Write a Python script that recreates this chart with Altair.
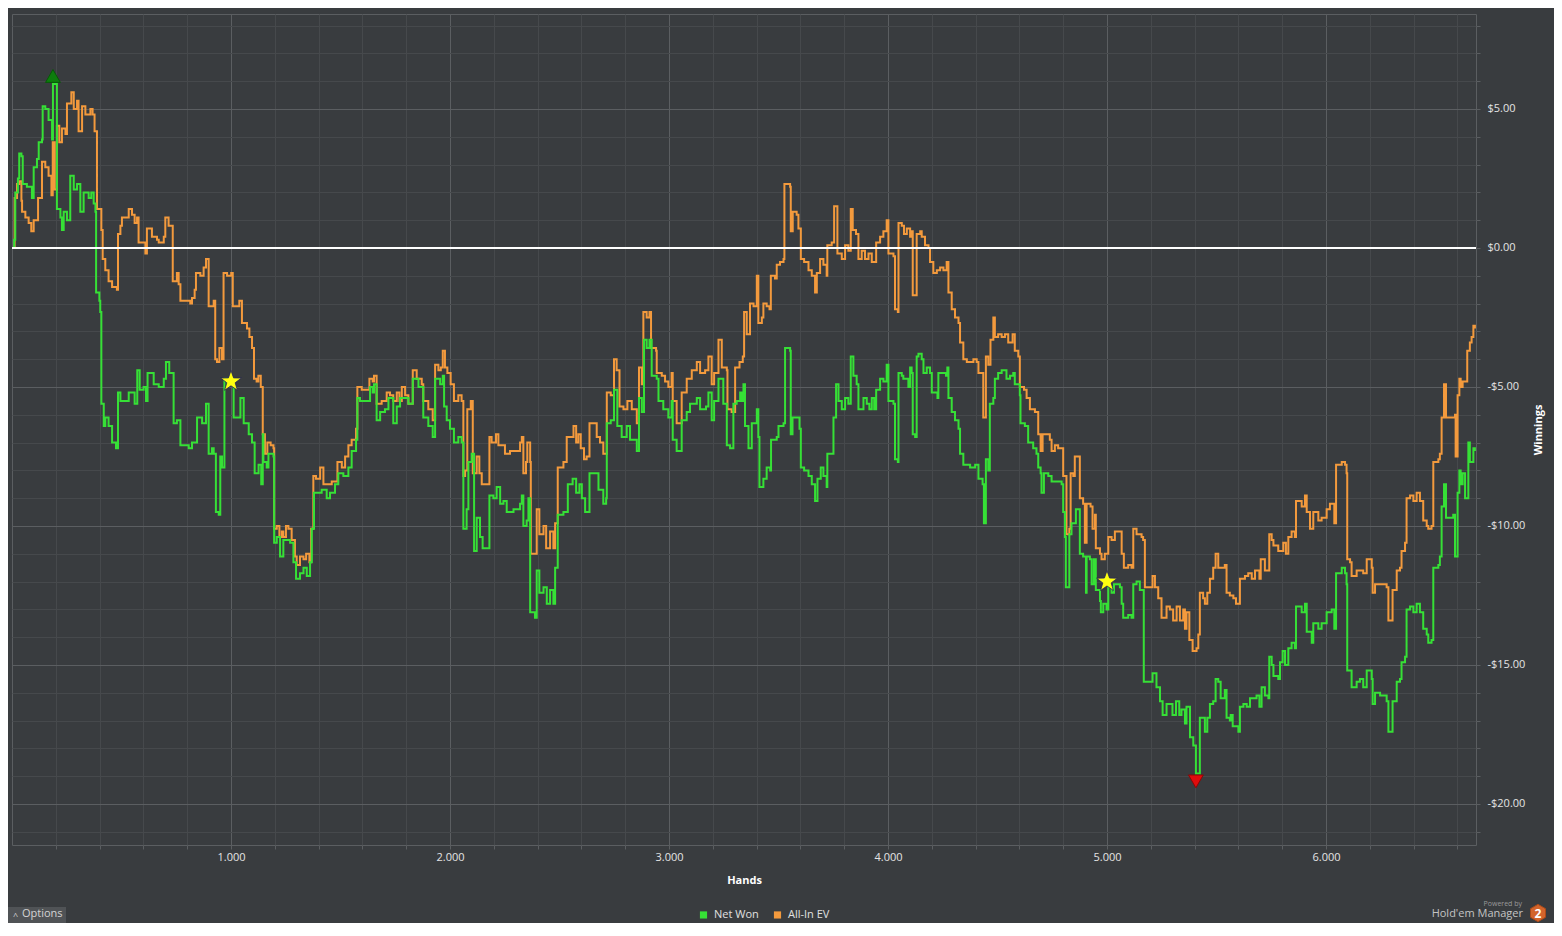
import altair as alt
import pandas as pd

# ---------------- data ----------------
# Net Won: hands / dollars
net_hands_a = [0, 10, 15, 27, 33, 43, 49, 68, 91, 99,
               114, 122, 137, 140, 152, 167, 183, 187, 205, 221,
               228, 236, 251, 266, 282, 297, 312, 327, 350, 362,
               373, 381, 384, 399, 403, 408, 419, 426, 441, 457,
               475, 484, 495, 517, 533, 560, 572, 583, 601, 612,
               619, 647, 670, 693, 703, 718, 738, 753, 769, 807,
               822, 845, 868, 886, 898, 913, 921, 931, 944, 951,
               959, 970, 982, 1005, 1012, 1035, 1043, 1058, 1081, 1096,
               1108, 1126, 1138]
net_won_a = [0.0, 0.3, 2.0, 2.5, 3.4, 3.3, 2.3, 2.2, 1.8, 2.9,
             3.2, 3.8, 3.9, 5.1, 5.0, 4.6, 3.9, 5.9, 1.4, 1.1,
             0.65, 1.3, 1.0, 2.6, 2.1, 2.3, 1.3, 2.0, 1.8, 2.0,
             1.6, 1.3, -1.6, -1.9, -2.3, -5.6, -6.4, -6.1, -6.4, -7.0,
             -7.2, -5.2, -5.5, -5.5, -5.2, -5.6, -4.4, -5.1, -5.0, -5.5,
             -4.5, -4.9, -5.0, -4.7, -4.1, -4.5, -6.3, -6.2, -7.1, -7.2,
             -7.0, -6.1, -6.3, -5.6, -7.4, -7.2, -7.4, -9.5, -9.6, -7.5,
             -7.9, -4.7, -4.9, -4.7, -6.1, -6.1, -5.4, -6.3, -6.7, -7.0,
             -8.1, -7.8, -8.5]
net_hands_b = [1145, 1148, 1163, 1171, 1194, 1197, 1209, 1224, 1239, 1270,
               1285, 1297, 1315, 1331, 1346, 1361, 1369, 1379, 1399, 1414,
               1437, 1452, 1475, 1490, 1513, 1536, 1551, 1571, 1577, 1589,
               1612, 1635, 1647, 1653, 1665, 1681, 1703, 1719, 1741, 1757,
               1772, 1787, 1810, 1830, 1856, 1878, 1901, 1921, 1932, 1955,
               1967, 1973, 1985, 2000, 2018, 2038, 2053, 2061, 2076, 2084,
               2099, 2110, 2122, 2137, 2149, 2168, 2180, 2198, 2213, 2229]
net_won_b = [-6.7, -7.7, -7.9, -7.4, -7.5, -10.6, -10.4, -11.1, -10.5, -10.6,
             -11.3, -11.9, -11.7, -11.5, -11.8, -11.3, -10.1, -8.8, -8.8, -8.7,
             -9.0, -8.8, -8.5, -8.1, -8.2, -7.9, -7.3, -6.9, -5.4, -5.5,
             -5.5, -5.0, -5.2, -4.9, -6.2, -5.9, -5.8, -5.4, -6.3, -5.7,
             -5.4, -5.4, -5.6, -4.7, -5.0, -6.1, -6.4, -6.8, -4.7, -4.9,
             -4.6, -5.7, -6.2, -6.5, -7.0, -6.8, -7.0, -10.1, -9.4, -7.7,
             -7.4, -10.9, -9.7, -10.4, -10.8, -10.8, -8.9, -9.0, -8.6, -9.2]
net_hands_c = [2244, 2259, 2290, 2320, 2328, 2335, 2350, 2358, 2366, 2388,
               2396, 2408, 2427, 2442, 2457, 2472, 2480, 2492, 2518, 2538,
               2560, 2576, 2591, 2602, 2617, 2637, 2662, 2678, 2700, 2713,
               2716, 2734, 2749, 2764, 2784, 2807, 2822, 2853, 2863, 2876,
               2886, 2898, 2911, 2921, 2944, 2952, 2974, 2997, 3012, 3017,
               3035, 3051, 3058, 3081, 3096, 3127, 3142, 3169, 3180, 3195,
               3206, 3226, 3248, 3264, 3279]
net_won_c = [-9.1, -9.5, -9.4, -9.2, -8.9, -10.0, -9.8, -9.0, -13.1, -13.3,
             -11.6, -12.4, -12.2, -12.8, -12.3, -12.8, -11.5, -9.6, -9.5, -8.5,
             -8.3, -8.8, -8.5, -9.0, -9.5, -8.1, -8.1, -8.7, -9.2, -9.0,
             -6.3, -6.2, -5.1, -6.4, -6.8, -6.4, -6.9, -7.3, -5.4, -5.9,
             -3.3, -3.6, -3.3, -4.6, -4.7, -5.5, -5.8, -6.1, -5.5, -6.9,
             -7.3, -7.3, -6.2, -5.9, -5.6, -5.4, -5.8, -5.7, -5.2, -6.2,
             -5.5, -4.7, -5.6, -7.1, -7.2]
net_hands_d = [3294, 3309, 3325, 3332, 3340, 3347, 3363, 3378, 3393, 3401,
               3408, 3413, 3431, 3446, 3462, 3466, 3492, 3500, 3523, 3530,
               3553, 3556, 3564, 3583, 3596, 3602, 3617, 3637, 3652, 3667,
               3678, 3693, 3705, 3720, 3723, 3743, 3751, 3763, 3774, 3789,
               3804, 3819, 3830, 3842, 3857, 3865, 3888, 3903, 3915, 3926,
               3937, 3946, 3964, 3979, 3994, 4002, 4025, 4032, 4045, 4048,
               4063, 4070, 4093, 4101, 4108, 4113, 4124, 4131, 4139, 4154,
               4162, 4177, 4192, 4200, 4215, 4226, 4230, 4265, 4271, 4276,
               4291, 4306, 4322, 4329, 4344, 4375, 4398, 4413]
net_won_d = [-5.6, -5.5, -5.2, -5.5, -4.9, -6.4, -7.2, -6.3, -6.3, -5.8,
             -6.8, -8.6, -8.3, -7.9, -8.0, -6.9, -6.8, -6.4, -6.3, -3.6,
             -3.7, -6.7, -6.1, -6.1, -6.5, -7.9, -8.0, -8.2, -8.5, -9.1,
             -8.3, -7.9, -8.2, -8.6, -7.4, -7.4, -6.1, -4.9, -5.5, -5.8,
             -5.4, -5.6, -3.9, -4.6, -4.9, -5.8, -5.4, -5.6, -5.8, -5.4,
             -5.8, -5.1, -4.7, -4.8, -4.2, -5.5, -5.6, -7.6, -7.7, -4.5,
             -4.6, -4.7, -5.0, -4.3, -4.5, -6.7, -6.8, -3.9, -3.8, -4.0,
             -4.5, -4.3, -4.5, -5.2, -5.2, -5.4, -4.5, -4.6, -4.3, -5.4,
             -5.9, -6.2, -6.5, -7.4, -7.8, -7.9, -7.8, -8.3]
net_hands_e = [4420, 4432, 4438, 4442, 4447, 4458, 4465, 4481, 4488, 4503,
               4519, 4541, 4557, 4572, 4579, 4602, 4605, 4625, 4640, 4663,
               4678, 4686, 4697, 4701, 4712, 4732, 4747, 4773, 4793, 4800,
               4808, 4812, 4823, 4828, 4838, 4849, 4858, 4869, 4876, 4891,
               4904, 4907, 4922, 4930, 4940, 4949, 4968, 4972, 4983, 4998,
               5006, 5021, 5032, 5044, 5059, 5067, 5074, 5097, 5112, 5120,
               5135, 5150, 5162, 5168, 5196, 5208, 5219, 5226, 5242, 5254,
               5272, 5284, 5299, 5315, 5330, 5340, 5356, 5363, 5376, 5379,
               5394, 5406, 5417, 5424, 5439, 5447, 5458, 5470, 5485, 5496,
               5508, 5519, 5538, 5546, 5561]
net_won_e = [-8.3, -8.5, -9.9, -9.9, -7.6, -8.0, -5.6, -5.4, -4.7, -4.5,
             -4.4, -4.7, -4.6, -4.5, -4.9, -5.3, -6.3, -6.4, -7.0, -7.2,
             -7.4, -7.9, -8.1, -8.8, -8.1, -8.2, -8.4, -8.4, -8.5, -9.5,
             -10.4, -12.2, -12.2, -10.3, -9.9, -9.9, -9.4, -9.4, -11.0, -11.1,
             -12.4, -11.1, -11.2, -12.1, -11.2, -12.3, -12.7, -13.1, -12.8, -13.0,
             -12.2, -12.4, -12.1, -12.1, -12.2, -12.8, -13.3, -13.2, -13.3, -12.1,
             -12.0, -12.3, -12.3, -15.6, -15.6, -15.3, -15.3, -15.8, -16.3, -16.8,
             -16.4, -16.4, -16.8, -16.3, -16.8, -16.6, -17.1, -16.5, -16.5, -17.6,
             -17.9, -18.9, -18.9, -16.9, -16.9, -17.4, -16.9, -16.4, -16.3, -15.5,
             -15.6, -16.2, -15.9, -16.9, -17.0]
net_hands_f = [5565, 5574, 5584, 5600, 5607, 5623, 5638, 5653, 5668, 5683,
               5696, 5706, 5721, 5737, 5741, 5752, 5760, 5782, 5790, 5802,
               5813, 5828, 5843, 5858, 5863, 5881, 5889, 5904, 5912, 5935,
               5942, 5965, 5980, 6003, 6026, 6038, 6046, 6072, 6087, 6094,
               6097, 6110, 6117, 6140, 6155, 6170, 6186, 6201, 6209, 6213,
               6224, 6247, 6269, 6277, 6285, 6300, 6304, 6315, 6323, 6338,
               6345, 6361, 6368, 6384, 6399, 6414, 6429, 6444, 6460, 6467,
               6482, 6490, 6513, 6520, 6528, 6539, 6548, 6566, 6581, 6589,
               6600, 6601, 6609, 6615, 6624, 6635, 6645, 6650, 6657, 6665,
               6673, 6680]
net_won_f = [-16.8, -17.2, -17.2, -17.4, -16.5, -16.4, -16.5, -16.2, -16.2, -16.1,
             -16.5, -15.8, -16.1, -16.2, -14.7, -15.0, -15.4, -15.5, -14.9, -14.5,
             -15.0, -14.4, -14.2, -14.4, -12.9, -12.9, -13.1, -12.8, -13.8, -14.2,
             -13.5, -13.7, -13.5, -13.1, -13.0, -13.7, -11.7, -11.5, -11.7, -12.1,
             -15.2, -15.2, -15.8, -15.6, -15.5, -15.8, -15.2, -15.2, -15.5, -16.4,
             -16.0, -16.1, -16.1, -16.3, -17.4, -17.4, -16.3, -16.3, -15.6, -15.5,
             -14.9, -14.7, -13.0, -12.9, -13.1, -12.8, -13.1, -13.7, -13.9, -14.2,
             -14.1, -11.5, -11.4, -11.1, -9.3, -8.5, -9.7, -9.7, -9.6, -11.1,
             -11.1, -8.8, -8.0, -8.5, -8.1, -9.0, -9.0, -7.0, -7.7, -7.7,
             -7.2, -7.3]

# All-In EV: hands / dollars
ev_hands_a = [0, 12, 23, 33, 43, 46, 61, 76, 88, 99,
              110, 119, 129, 137, 152, 167, 180, 186, 195, 205,
              216, 228, 244, 251, 271, 282, 297, 304, 320, 335,
              347, 358, 368, 377, 388, 399, 408, 414, 426, 441,
              457, 479, 484, 495, 502, 525, 533, 548, 560, 571,
              578, 601, 609, 616, 632, 639, 662, 670, 693, 700,
              708, 715, 728, 734, 753, 761, 769, 791, 814, 822,
              834, 840, 860, 875, 886, 895, 898, 910, 921, 928,
              936, 947, 959, 966, 982, 1001, 1008, 1027, 1038, 1050,
              1073, 1084, 1096]
ev_won_a = [0.0, 1.8, 2.3, 2.4, 1.7, 1.3, 1.1, 0.9, 0.6, 1.0,
            1.0, 1.8, 1.8, 3.1, 2.9, 2.6, 1.9, 3.8, 2.1, 4.4,
            3.8, 4.3, 4.1, 5.2, 5.6, 5.0, 5.3, 4.2, 5.1, 4.8,
            4.8, 5.0, 4.8, 4.2, 1.4, 1.4, 0.65, -0.4, -0.8, -1.2,
            -1.4, -1.5, 0.5, 0.8, 1.1, 1.1, 1.4, 1.2, 0.9, 1.1,
            0.2, 0.2, -0.2, 0.7, 0.7, 0.4, 0.3, 0.2, 0.4, 1.1,
            1.1, 0.8, 0.8, -1.2, -0.9, -1.3, -1.9, -1.9, -2.0, -1.8,
            -1.5, -0.9, -1.0, -0.7, -0.4, -0.4, -2.1, -2.1, -1.9, -4.0,
            -4.1, -3.6, -4.0, -0.9, -1.0, -0.9, -2.1, -2.1, -1.9, -2.7,
            -2.9, -3.2, -3.6]
ev_hands_b = [1105, 1117, 1125, 1136, 1145, 1155, 1166, 1181, 1194, 1197,
              1209, 1221, 1232, 1239, 1251, 1262, 1277, 1292, 1300, 1315,
              1331, 1343, 1358, 1366, 1376, 1388, 1407, 1422, 1445, 1460,
              1486, 1506, 1521, 1536, 1551, 1571, 1577, 1597, 1620, 1632,
              1647, 1653, 1665, 1688, 1711, 1726, 1741, 1757, 1769, 1780,
              1795, 1810, 1830, 1848, 1871, 1878, 1901, 1921, 1932, 1947,
              1958, 1967, 1977, 1988, 2003, 2018, 2038, 2053, 2061, 2069,
              2079, 2095, 2104, 2122, 2134, 2145, 2168, 2180, 2190, 2210,
              2221]
ev_won_b = [-4.7, -4.8, -4.6, -5.0, -6.7, -7.4, -7.0, -7.1, -7.2, -10.1,
            -10.0, -10.4, -10.2, -10.4, -10.0, -10.1, -10.5, -11.1, -11.4, -11.1,
            -11.2, -11.0, -11.3, -10.1, -8.2, -8.3, -7.9, -8.5, -8.5, -8.4,
            -7.7, -7.9, -7.5, -7.1, -6.9, -6.5, -5.0, -5.1, -5.1, -4.7,
            -4.8, -4.6, -5.6, -5.5, -5.2, -5.3, -5.5, -5.2, -5.5, -5.0,
            -5.3, -5.6, -4.4, -4.7, -4.9, -5.5, -5.8, -6.2, -4.2, -4.4,
            -4.3, -3.7, -4.3, -4.5, -4.9, -5.5, -5.3, -5.5, -8.2, -8.0,
            -5.8, -5.5, -8.1, -7.5, -8.1, -8.5, -8.5, -6.8, -7.0, -6.7,
            -7.1]
ev_hands_c = [2251, 2274, 2305, 2320, 2328, 2335, 2347, 2353, 2366, 2369,
              2388, 2396, 2408, 2427, 2439, 2457, 2472, 2480, 2492, 2518,
              2533, 2556, 2564, 2576, 2586, 2597, 2612, 2624, 2637, 2658,
              2670, 2685, 2700, 2708, 2716, 2734, 2749, 2761, 2774, 2792,
              2810, 2830, 2853, 2863, 2876, 2883, 2898, 2911, 2918, 2941,
              2944, 2967, 2982, 2997, 3012, 3017, 3035, 3058, 3081, 3104,
              3127, 3142, 3165, 3180, 3195, 3206, 3226, 3241, 3264, 3267,
              3286, 3302]
ev_won_c = [-7.4, -7.3, -7.3, -7.0, -6.8, -8.1, -7.7, -7.0, -7.7, -11.0,
            -11.0, -9.4, -10.3, -10.0, -10.8, -10.2, -10.8, -9.9, -7.9, -7.7,
            -6.8, -6.8, -6.4, -7.0, -6.7, -7.2, -7.6, -7.5, -6.3, -6.3,
            -6.8, -7.0, -7.4, -7.4, -5.2, -5.3, -4.0, -4.4, -5.7, -5.8,
            -5.5, -5.8, -6.3, -4.3, -4.9, -2.3, -2.5, -2.3, -3.6, -3.7,
            -4.5, -4.6, -4.8, -5.0, -4.5, -5.5, -6.3, -5.2, -4.7, -4.4,
            -4.1, -4.5, -4.4, -3.9, -4.9, -4.5, -3.3, -4.3, -4.4, -5.8,
            -5.9, -4.3]
ev_hands_d = [3322, 3337, 3343, 3355, 3370, 3386, 3401, 3408, 3424, 3431,
              3446, 3459, 3465, 3484, 3492, 3507, 3523, 3527, 3553, 3556,
              3565, 3583, 3591, 3602, 3617, 3637, 3652, 3667, 3675, 3690,
              3705, 3720, 3723, 3743, 3754, 3763, 3769, 3789, 3804, 3819,
              3830, 3839, 3854, 3865, 3880, 3895, 3911, 3926, 3937, 3946,
              3964, 3979, 3994, 4002, 4025, 4032, 4045, 4048, 4063, 4073,
              4086, 4101, 4108, 4113, 4124, 4131, 4147, 4154, 4169, 4185,
              4192, 4207, 4223, 4238, 4253, 4268, 4276, 4291, 4306, 4322,
              4329, 4344, 4360, 4390, 4405, 4413]
ev_won_d = [-4.1, -3.9, -2.3, -3.1, -2.0, -2.1, -1.0, -2.7, -2.5, -2.0,
            -2.1, -2.2, -1.0, -1.1, -0.6, -0.5, -0.4, 2.3, 2.2, 0.6,
            1.3, 1.2, 0.7, -0.4, -0.5, -0.8, -1.0, -1.6, -0.9, -0.4,
            -0.6, -1.0, 0.1, 0.2, 1.5, 1.5, -0.2, -0.4, 0.1, -0.1,
            1.4, 0.65, 0.5, -0.4, -0.1, -0.4, -0.2, -0.5, -0.5, 0.2,
            0.4, 0.6, 1.0, -0.2, -0.3, -2.2, -2.3, 0.9, 0.8, 0.5,
            0.7, 0.4, 0.6, -1.7, -1.7, 0.5, 0.6, 0.4, 0.1, 0.0,
            -0.5, -0.9, -0.8, -0.7, -0.8, -0.5, -1.6, -2.2, -2.5, -2.7,
            -3.4, -4.0, -4.1, -4.0, -4.1, -4.5]
ev_hands_e = [4427, 4435, 4442, 4447, 4458, 4468, 4481, 4488, 4503, 4519,
              4534, 4549, 4569, 4579, 4595, 4602, 4621, 4633, 4648, 4671,
              4686, 4697, 4706, 4724, 4739, 4747, 4762, 4777, 4793, 4800,
              4815, 4828, 4834, 4846, 4853, 4869, 4876, 4891, 4899, 4907,
              4925, 4934, 4945, 4949, 4968, 4975, 4990, 5006, 5021, 5036,
              5051, 5067, 5077, 5097, 5112, 5120, 5135, 5158, 5165, 5173,
              5196, 5208, 5219, 5234, 5249, 5272, 5287, 5302, 5318, 5333,
              5348, 5356, 5363, 5376, 5391, 5409, 5417, 5424, 5439, 5447,
              5458, 5470, 5485, 5496, 5508, 5523, 5538, 5546, 5561]
ev_won_e = [-4.5, -6.1, -6.1, -3.9, -4.2, -3.3, -2.5, -3.2, -3.1, -3.2,
            -3.1, -3.4, -3.1, -3.7, -3.9, -5.0, -5.1, -5.4, -5.8, -5.9,
            -6.7, -7.3, -6.7, -6.7, -6.9, -7.3, -7.1, -7.2, -7.2, -8.2,
            -10.3, -10.1, -8.1, -8.2, -7.5, -7.5, -9.0, -9.2, -10.6, -9.2,
            -9.3, -10.1, -9.6, -10.8, -11.0, -11.2, -11.0, -10.4, -10.5, -10.2,
            -10.2, -11.0, -11.5, -11.4, -11.5, -10.1, -10.3, -10.4, -10.5, -12.2,
            -12.2, -11.8, -12.2, -12.6, -13.3, -12.9, -13.0, -13.4, -12.9, -13.4,
            -13.0, -13.7, -13.1, -14.1, -14.5, -14.4, -13.9, -12.4, -12.6, -12.8,
            -12.4, -11.9, -11.5, -11.0, -11.5, -11.5, -11.4, -12.4, -12.5]
ev_hands_f = [5569, 5577, 5589, 5600, 5607, 5630, 5645, 5661, 5676, 5696,
              5702, 5721, 5737, 5741, 5752, 5760, 5782, 5798, 5805, 5817,
              5828, 5843, 5858, 5863, 5881, 5889, 5904, 5912, 5927, 5942,
              5965, 5980, 6003, 6018, 6038, 6046, 6072, 6087, 6094, 6097,
              6110, 6117, 6140, 6155, 6170, 6186, 6201, 6209, 6213, 6224,
              6247, 6269, 6277, 6285, 6300, 6304, 6315, 6323, 6338, 6345,
              6361, 6368, 6384, 6399, 6414, 6429, 6444, 6460, 6467, 6482,
              6490, 6513, 6520, 6528, 6539, 6548, 6566, 6589, 6592, 6600,
              6601, 6609, 6615, 6624, 6639, 6645, 6657, 6665, 6673, 6680]
ev_won_f = [-12.5, -12.6, -12.8, -12.8, -11.9, -11.8, -11.7, -11.9, -11.6, -11.9,
            -11.2, -11.6, -11.6, -10.3, -10.5, -10.7, -10.9, -10.9, -10.6, -11.0,
            -10.4, -10.2, -10.4, -9.1, -9.1, -9.3, -8.9, -9.5, -10.1, -9.5,
            -9.8, -9.7, -9.4, -9.2, -9.9, -7.8, -7.7, -7.8, -8.1, -11.2,
            -11.3, -11.8, -11.6, -11.6, -11.7, -11.2, -11.2, -11.5, -12.4, -12.1,
            -12.1, -12.1, -12.2, -13.4, -13.4, -12.3, -12.3, -11.6, -11.5, -10.9,
            -10.6, -9.0, -8.9, -9.1, -8.8, -9.1, -9.8, -10.0, -10.1, -10.0,
            -7.7, -7.6, -7.4, -6.1, -4.9, -6.1, -6.1, -6.0, -7.5, -7.5,
            -5.3, -4.7, -5.0, -4.8, -4.8, -3.7, -3.4, -3.2, -2.8, -2.9]

milestone_hands = [1000, 5000]
milestone_won = [-4.8, -12.0]

series_names = ["Net Won", "All-In EV"]
series_colors = ["#36e036", "#f39a3d"]

x_tick_values = list(range(200, 6601, 200))
y_tick_values = list(range(-21, 9))
x_domain = [0, 6685]
y_domain = [-21.475, 8.417]

# ---------------- assemble ----------------
net_hands = net_hands_a + net_hands_b + net_hands_c + net_hands_d + net_hands_e + net_hands_f
net_won = net_won_a + net_won_b + net_won_c + net_won_d + net_won_e + net_won_f
ev_hands = ev_hands_a + ev_hands_b + ev_hands_c + ev_hands_d + ev_hands_e + ev_hands_f
ev_won = ev_won_a + ev_won_b + ev_won_c + ev_won_d + ev_won_e + ev_won_f
assert len(net_hands) == len(net_won), (len(net_hands), len(net_won))
assert len(ev_hands) == len(ev_won), (len(ev_hands), len(ev_won))

net_df = pd.DataFrame({"Hands": net_hands, "Winnings": net_won, "Series": series_names[0]})
ev_df = pd.DataFrame({"Hands": ev_hands, "Winnings": ev_won, "Series": series_names[1]})
hi_df = net_df.loc[[net_df["Winnings"].idxmax()]]
lo_df = net_df.loc[[net_df["Winnings"].idxmin()]]
star_df = pd.DataFrame({"Hands": milestone_hands, "Winnings": milestone_won})
zero_df = pd.DataFrame({"Winnings": [0]})
one_df = pd.DataFrame({"k": [0]})

FONT = "Open Sans"
MINOR = "#46494c"
MAJOR = "#5b5e61"
BG = "#393c3f"

xscale = alt.Scale(domain=x_domain, nice=False, zero=False)
yscale = alt.Scale(domain=y_domain, nice=False, zero=False)

xaxis = alt.Axis(
    values=x_tick_values,
    title="Hands",
    labelExpr="datum.value % 1000 === 0 ? (datum.value / 1000) + '.000' : ''",
    grid=True,
    gridColor={"condition": {"test": "datum.value % 1000 === 0", "value": MAJOR}, "value": MINOR},
    gridWidth=1,
    domain=False,
    ticks=True, tickSize=4, tickColor=MAJOR,
    labelColor="#e4e4e4", labelFont=FONT, labelFontSize=11, labelPadding=2,
    labelOverlap=False, labelFlush=False,
    titleColor="#ffffff", titleFont=FONT, titleFontSize=11, titleFontWeight="bold",
    titlePadding=12,
)
yaxis = alt.Axis(
    orient="right",
    values=y_tick_values,
    title="Winnings",
    labelExpr="datum.value % 5 === 0 ? (datum.value < 0 ? '-$' : '$') + abs(datum.value) + '.00' : ''",
    grid=True,
    gridColor={"condition": {"test": "datum.value % 5 === 0", "value": MAJOR}, "value": MINOR},
    gridWidth=1,
    domain=False,
    ticks=True, tickSize=4, tickColor=MAJOR,
    labelColor="#e4e4e4", labelFont=FONT, labelFontSize=11, labelPadding=7,
    labelOverlap=False, labelFlush=False,
    titleColor="#ffffff", titleFont=FONT, titleFontSize=11, titleFontWeight="bold",
    titleAngle=270, titleX=62, titleBaseline="middle",
)

X = alt.X("Hands:Q", scale=xscale, axis=xaxis, title="Hands")
Y = alt.Y("Winnings:Q", scale=yscale, axis=yaxis, title="Winnings")

color_enc = alt.Color(
    "Series:N",
    scale=alt.Scale(domain=series_names, range=series_colors),
    legend=alt.Legend(
        title=None, orient="none", legendX=686, legendY=895, direction="horizontal",
        symbolType="square", symbolSize=10, symbolStrokeWidth=4,
        labelColor="#e0e0e0", labelFont=FONT, labelFontSize=11,
        columnPadding=8, labelOffset=5,
    ),
)

ev_line = alt.Chart(ev_df).mark_line(strokeWidth=2, interpolate="step-after").encode(
    x=X, y=Y, color=color_enc,
)
net_line = alt.Chart(net_df).mark_line(strokeWidth=2, interpolate="step-after").encode(
    x=X, y=Y, color=color_enc,
)
zero_rule = alt.Chart(zero_df).mark_rule(color="#ffffff", strokeWidth=2).encode(y=Y)
hi_mark = alt.Chart(hi_df).mark_point(
    shape="triangle-up", filled=True, fill="#0d7d0d", stroke="#075a07", strokeWidth=1,
    size=220, yOffset=-8, opacity=1,
).encode(x=X, y=Y)
lo_mark = alt.Chart(lo_df).mark_point(
    shape="triangle-down", filled=True, fill="#e00c0c", stroke="#8c0606", strokeWidth=1,
    size=220, yOffset=8, opacity=1,
).encode(x=X, y=Y)
STAR = ("M0,-1L0.235,-0.324L0.951,-0.309L0.38,0.124L0.588,0.809L0,0.4"
        "L-0.588,0.809L-0.38,0.124L-0.951,-0.309L-0.235,-0.324Z")
stars = alt.Chart(star_df).mark_point(
    shape=STAR, filled=True, fill="#ffff10", stroke="#23235a", strokeWidth=0.8,
    size=480, opacity=1,
).encode(x=X, y=Y)

# ---- decorations (Options button and HM2 logo) ----
opt_box = alt.Chart(one_df).mark_rect(color="#505356").encode(
    x=alt.value(-4), x2=alt.value(54), y=alt.value(893), y2=alt.value(912))
opt_caret = alt.Chart(one_df).mark_text(
    text="^", font=FONT, fontSize=9, color="#cfcfcf", align="left", baseline="middle"
).encode(x=alt.value(1), y=alt.value(902))
opt_text = alt.Chart(one_df).mark_text(
    text="Options", font=FONT, fontSize=11, color="#d4d4d4", align="left", baseline="middle"
).encode(x=alt.value(10), y=alt.value(900))
pow_text = alt.Chart(one_df).mark_text(
    text="Powered by", font=FONT, fontSize=7, color="#9a9a9a", align="right", baseline="middle"
).encode(x=alt.value(1510), y=alt.value(890))
hm_text = alt.Chart(one_df).mark_text(
    text="Hold'em Manager", font=FONT, fontSize=11, color="#c4c4c4", align="right", baseline="middle"
).encode(x=alt.value(1511), y=alt.value(900))
HEX = "M0,-1L0.866,-0.5L0.866,0.5L0,1L-0.866,0.5L-0.866,-0.5Z"
hm_hex = alt.Chart(one_df).mark_point(
    shape=HEX, filled=True, fill="#d3642b", stroke="#a94a1a", strokeWidth=1, size=300, opacity=1
).encode(x=alt.value(1526), y=alt.value(899))
hm_two = alt.Chart(one_df).mark_text(
    text="2", font=FONT, fontSize=12, fontWeight="bold", color="#ffffff", align="center", baseline="middle"
).encode(x=alt.value(1526), y=alt.value(900))

chart = alt.layer(
    ev_line, net_line, zero_rule, hi_mark, lo_mark, stars,
    opt_box, opt_caret, opt_text, pow_text, hm_text, hm_hex, hm_two,
).properties(
    width=1464,
    height=831,
    padding={"left": 4, "top": 6, "right": 78, "bottom": 78},
    autosize=alt.AutoSizeParams(type="none"),
    background=BG,
).configure(
    font=FONT,
).configure_view(
    stroke=MAJOR, strokeWidth=1, fill=BG,
)

chart.save("out.html", embed_options={"renderer": "svg", "actions": False})
